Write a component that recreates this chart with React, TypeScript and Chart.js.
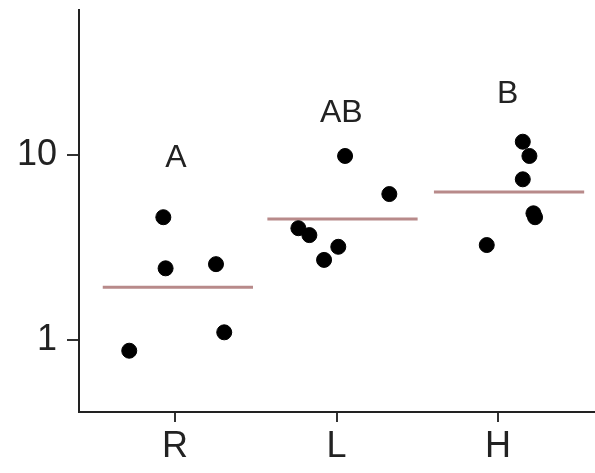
import React, { useEffect, useRef } from "react";
import { Chart, registerables } from "chart.js";

Chart.register(...registerables);

const categories = ["R", "L", "H"];
const yTicks = [1, 10];

// jittered x positions (category index 1..3) and values
const rX = [0.928, 0.942, 1.254, 1.305, 0.717];
const rY = [4.61, 2.44, 2.57, 1.1, 0.875];
const lX = [2.053, 2.327, 1.764, 1.832, 2.011, 1.923];
const lY = [9.88, 6.15, 4.02, 3.69, 3.19, 2.71];
const hX = [3.153, 3.194, 3.153, 3.219, 3.229, 2.93];
const hY = [11.8, 9.88, 7.39, 4.84, 4.61, 3.26];

const medianCenters = [1.018, 2.037, 3.068];
const medianValues = [1.93, 4.51, 6.31];
const medianHalfWidth = 0.465;

const letters = ["A", "AB", "B"];
const letterX = [1.006, 2.03, 3.06];
const letterY = [9.6, 16.9, 21.4];

const FONT = "'Liberation Sans', Arial, sans-serif";

export default function App() {
  const ref = useRef<HTMLCanvasElement | null>(null);

  useEffect(() => {
    if (!ref.current) return;
    const points = [
      ...rX.map((x, i) => ({ x, y: rY[i] })),
      ...lX.map((x, i) => ({ x, y: lY[i] })),
      ...hX.map((x, i) => ({ x, y: hY[i] })),
    ];
    const medianSets = medianCenters.map((c, i) => ({
      data: [
        { x: c - medianHalfWidth, y: medianValues[i] },
        { x: c + medianHalfWidth, y: medianValues[i] },
      ],
      showLine: true,
      borderColor: "#b88a8a",
      borderWidth: 3,
      pointRadius: 0,
      borderCapStyle: "butt" as const,
    }));

    const letterPlugin = {
      id: "letters",
      afterDatasetsDraw(chart: any) {
        const ctx = chart.ctx;
        const xs = chart.scales.x;
        const ys = chart.scales.y;
        ctx.save();
        ctx.fillStyle = "#222";
        ctx.font = `32px ${FONT}`;
        ctx.textAlign = "center";
        ctx.textBaseline = "middle";
        letters.forEach((t, i) => {
          ctx.fillText(t, xs.getPixelForValue(letterX[i]), ys.getPixelForValue(letterY[i]));
        });
        ctx.restore();
      },
    };

    const chart = new Chart(ref.current, {
      type: "scatter",
      data: {
        datasets: [
          {
            data: points,
            backgroundColor: "#000",
            borderColor: "#000",
            pointRadius: 7.5,
            pointHoverRadius: 7.5,
          },
          ...medianSets,
        ],
      },
      options: {
        animation: false,
        responsive: false,
        maintainAspectRatio: false,
        layout: { autoPadding: false, padding: { top: 10, right: 0, left: 0, bottom: 0 } },
        plugins: { legend: { display: false }, tooltip: { enabled: false } },
        scales: {
          x: {
            type: "linear",
            min: 0.406,
            max: 3.6,
            afterBuildTicks: (s: any) => {
              s.ticks = categories.map((_, i) => ({ value: i + 1 }));
            },
            afterFit: (s: any) => {
              s.height = 61;
              s.paddingLeft = 0;
              s.paddingRight = 0;
            },
            ticks: {
              callback: (v: any) => categories[Number(v) - 1] ?? "",
              font: { family: FONT, size: 36 },
              color: "#222",
              padding: 3,
              maxRotation: 0,
            },
            grid: {
              drawOnChartArea: false,
              drawTicks: true,
              tickLength: 10,
              color: "#333",
              lineWidth: 2,
            },
            border: { display: true, color: "#222", width: 2 },
          },
          y: {
            type: "logarithmic",
            min: 0.408,
            max: 60.8,
            afterBuildTicks: (s: any) => {
              s.ticks = yTicks.map((v) => ({ value: v }));
            },
            afterFit: (s: any) => {
              s.width = 79;
              s.paddingTop = 0;
              s.paddingBottom = 0;
            },
            ticks: {
              callback: (v: any) => String(v),
              font: { family: FONT, size: 36 },
              color: "#222",
              padding: 10,
            },
            grid: {
              drawOnChartArea: false,
              drawTicks: true,
              tickLength: 12,
              color: "#333",
              lineWidth: 2,
            },
            border: { display: true, color: "#222", width: 2 },
          },
        },
      },
      plugins: [letterPlugin],
    });
    return () => chart.destroy();
  }, []);

  return (
    <div style={{ position: "absolute", left: 0, top: 0, width: 595, height: 473, background: "#fff" }}>
      <canvas ref={ref} width={595} height={473} style={{ display: "block", width: 595, height: 473 }} />
    </div>
  );
}
